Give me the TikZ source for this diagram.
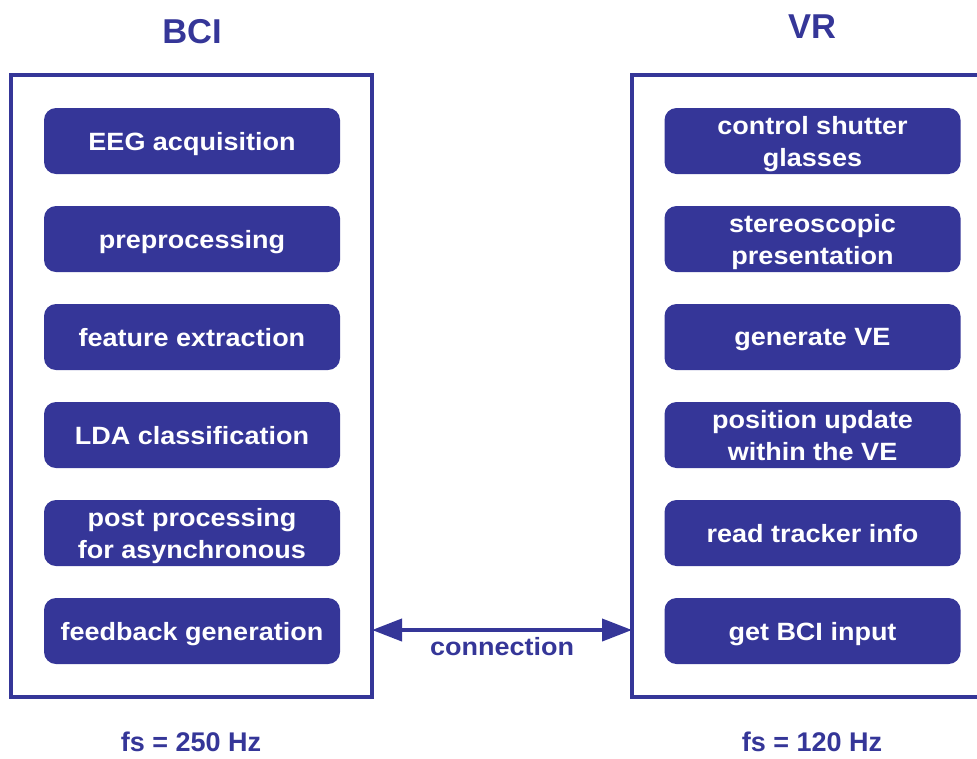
\documentclass[tikz,border=0pt]{standalone}
\usepackage{fontspec}
\setmainfont{Liberation Sans}
\newfontfamily\boxfont[FakeStretch=1.08]{Liberation Sans}
\usetikzlibrary{arrows.meta}
\definecolor{bciblue}{RGB}{53,54,152}
\begin{document}
\begin{tikzpicture}[x=1pt,y=-1pt,
  stepbox/.style={fill=bciblue,rounded corners=12pt,minimum width=296pt,minimum height=66pt,
    inner sep=0pt,text depth=0pt,text=white,align=center,font=\boxfont\bfseries\fontsize{25}{32}\selectfont},
  frame/.style={draw=bciblue,line width=3.5pt},
  title/.style={text=bciblue,inner sep=0pt,font=\bfseries\fontsize{34.5}{40}\selectfont},
  rate/.style={text=bciblue,inner sep=0pt,text depth=0pt,font=\bfseries\fontsize{27}{32}\selectfont}]
\useasboundingbox (0,0) rectangle (977,758);
\clip (0,0) rectangle (977,758);
% frames
\draw[frame] (11,75) rectangle (372,697);
\draw[frame] (632,75) rectangle (1000,697);
\coordinate (lf) at (372,630);
\coordinate (rf) at (632,630);
% titles
\node[title] (tbci) at (192,32) {BCI};
\node[title] (tvr) at (812,27) {VR};
% left steps
\node[stepbox] (b1) at (192,141) {EEG acquisition};
\node[stepbox] (b2) at (192,239) {preprocessing};
\node[stepbox] (b3) at (192,337) {feature extraction};
\node[stepbox] (b4) at (192,435) {LDA classification};
\node[stepbox] (b5) at (192,533) {post processing\\for asynchronous};
\node[stepbox] (b6) at (192,631) {feedback generation};
% right steps
\node[stepbox] (v1) at (812.5,141) {control shutter\\glasses};
\node[stepbox] (v2) at (812.5,239) {stereoscopic\\presentation};
\node[stepbox] (v3) at (812.5,337) {generate VE};
\node[stepbox] (v4) at (812.5,435) {position update\\within the VE};
\node[stepbox] (v5) at (812.5,533) {read tracker info};
\node[stepbox] (v6) at (812.5,631) {get BCI input};
% connection
\draw[draw=bciblue,line width=4pt,{Triangle[length=30pt,width=22pt]}-{Triangle[length=30pt,width=22pt]}] (lf) -- (rf);
\node[text=bciblue,inner sep=0pt,font=\boxfont\bfseries\fontsize{25}{30}\selectfont] (conn) at (502,647) {connection};
% rates
\node[rate] (fs1) at (191,742) {fs = 250 Hz};
\node[rate] (fs2) at (812,742) {fs = 120 Hz};
\end{tikzpicture}
\end{document}
